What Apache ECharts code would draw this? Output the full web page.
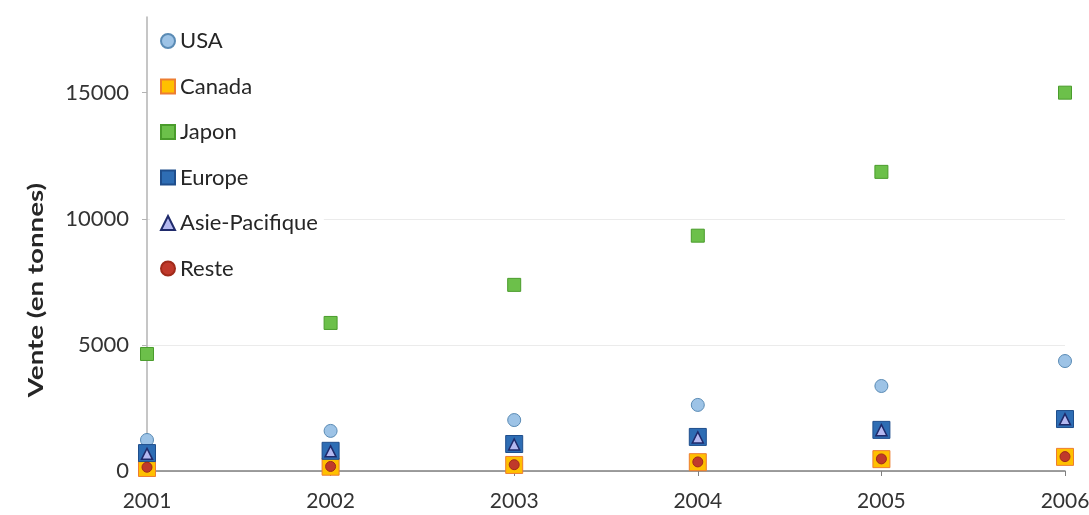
<!DOCTYPE html>
<html>
<head>
<meta charset="utf-8">
<script src="https://cdn.jsdelivr.net/npm/echarts@6/dist/echarts.min.js"></script>
<style>html,body{margin:0;padding:0;background:#fff}#c{width:1089px;height:515px}</style>
</head>
<body>
<div id="c"></div>
<script>
const years = [2001, 2002, 2003, 2004, 2005, 2006];
const usa = [1230, 1590, 2020, 2620, 3370, 4360];
const canada = [120, 170, 240, 350, 470, 560];
const japon = [4640, 5870, 7380, 9330, 11860, 15000];
const europe = [710, 800, 1070, 1350, 1630, 2060];
const asiePacifique = [680, 780, 1050, 1330, 1620, 2050];
const reste = [150, 180, 250, 360, 480, 570];
const yTicks = [0, 5000, 10000, 15000];

const FONT = 'Lato';
function pts(vals) { return years.map((y, i) => [y, vals[i]]); }
function ser(name, vals, symbol, size, fill, border, bw) {
  return {
    name: name, type: 'scatter', data: pts(vals), symbol: symbol, symbolSize: size,
    itemStyle: { color: fill, borderColor: border, borderWidth: bw, opacity: 1 },
    emphasis: { disabled: true }
  };
}
const chart = echarts.init(document.getElementById('c'), null, { renderer: 'canvas' });
chart.setOption({
  animation: false,
  backgroundColor: '#fff',
  textStyle: { fontFamily: FONT },
  grid: { left: 147, right: 24, top: 17, bottom: 44, containLabel: false, outerBoundsMode: 'none' },
  xAxis: {
    type: 'value', min: 2001, max: 2006, interval: 1,
    axisLine: { show: true, lineStyle: { color: '#7f7f7f', width: 1.5 } },
    axisTick: { show: true, length: 5, lineStyle: { color: '#7f7f7f' } },
    axisLabel: { margin: 20, color: '#333', fontSize: 21, fontFamily: FONT, formatter: v => String(v) },
    splitLine: { show: false }
  },
  yAxis: {
    type: 'value', min: 0, max: 18000, interval: 5000,
    axisLine: { show: true, lineStyle: { color: '#b3b3b3', width: 1.5 } },
    axisTick: { show: true, length: 5, lineStyle: { color: '#b3b3b3' }, customValues: yTicks },
    axisLabel: { margin: 18, color: '#333', fontSize: 22, fontFamily: FONT, customValues: yTicks, formatter: v => String(v) },
    splitLine: { show: true, showMaxLine: false, lineStyle: { color: '#ebebeb', width: 1 } }
  },
  legend: {
    orient: 'vertical', left: 150, top: 21,
    padding: [8, 6, 8, 10],
    backgroundColor: '#fff',
    itemGap: 21.5, itemWidth: 14, itemHeight: 14,
    textStyle: { fontSize: 22, fontFamily: FONT, color: '#262626', lineHeight: 24 },
    data: ['USA', 'Canada', 'Japon', 'Europe', 'Asie-Pacifique', 'Reste']
  },
  graphic: [{
    type: 'text', x: 36, y: 290, rotation: Math.PI / 2, scaleX: 1.32,
    style: { text: 'Vente (en tonnes)', font: 'bold 21px ' + FONT, fill: '#262626', align: 'center', verticalAlign: 'middle' }
  }],
  series: [
    ser('USA', usa, 'circle', 13, '#9dc3e6', '#5a8bb5', 1),
    ser('Canada', canada, 'rect', 17, '#ffc000', '#ed7d31', 1),
    ser('Japon', japon, 'rect', 13, '#6cc04a', '#4a9c2c', 1),
    ser('Europe', europe, 'rect', 17, '#2e6db4', '#1f4e8c', 1),
    ser('Asie-Pacifique', asiePacifique, 'triangle', 11, '#b4b8f0', '#1f2a6b', 1.5),
    ser('Reste', reste, 'circle', 10, '#c0392b', '#a02a1a', 1)
  ]
});
</script>
</body>
</html>
